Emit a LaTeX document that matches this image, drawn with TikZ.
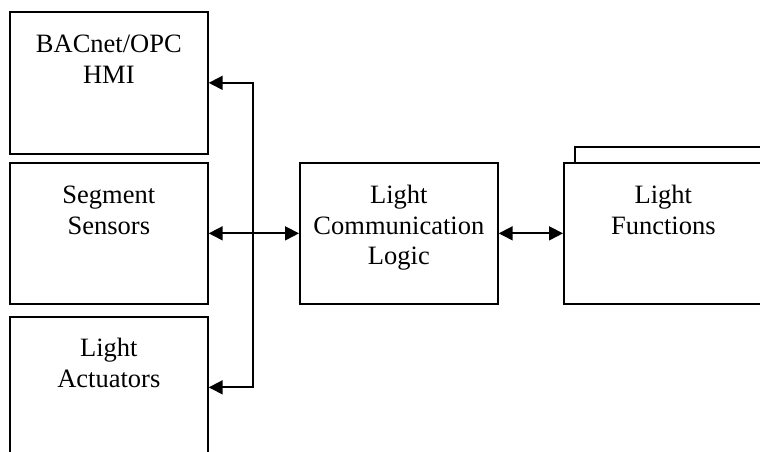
\documentclass[tikz,border=0pt]{standalone}
\usepackage{fontspec}
\setmainfont{Liberation Serif}
\usetikzlibrary{arrows.meta}

\begin{document}
\begin{tikzpicture}[x=1pt,y=1pt,
    box/.style={draw,line width=1.7pt,fill=white,minimum width=198pt,minimum height=141pt,anchor=north west,inner sep=0pt},
    txt/.style={anchor=base,align=center,inner sep=0pt,font=\fontsize{26.5}{30.5}\selectfont},
    tri/.style={line width=1.7pt,{Triangle[length=14pt,width=14pt]}-{Triangle[length=14pt,width=14pt]}}]
  \clip (0,0) rectangle (760,452);
  % left column
  \node[box,minimum height=142pt] (hmi) at (9,441) {};
  \node[box] (seg) at (9,290) {};
  \node[box] (act) at (9,136) {};
  % middle and right
  \node[box] (logic) at (299,290) {};
  \node[box] (funcback) at (574,306) {};
  \node[box,minimum width=199pt] (func) at (563,290) {};
  % labels (anchored on the last line)
  \node[txt] at ([yshift=-72.5pt]hmi.north) {BACnet/OPC\\HMI};
  \node[txt] at ([yshift=-72.5pt]seg.north) {Segment\\Sensors};
  \node[txt] at ([yshift=-71.5pt]act.north) {Light\\Actuators};
  \node[txt] at ([yshift=-103pt]logic.north) {Light\\Communication\\Logic};
  \node[txt] at ([yshift=-72.5pt]func.north) {Light\\Functions};
  % connectors
  \coordinate (bus) at (253,219);
  \draw[tri] (hmi.east) -| (bus) |- (act.east);
  \draw[tri] (seg.east) -- (logic.west);
  \draw[tri] (logic.east) -- (func.west);
\end{tikzpicture}
\end{document}
